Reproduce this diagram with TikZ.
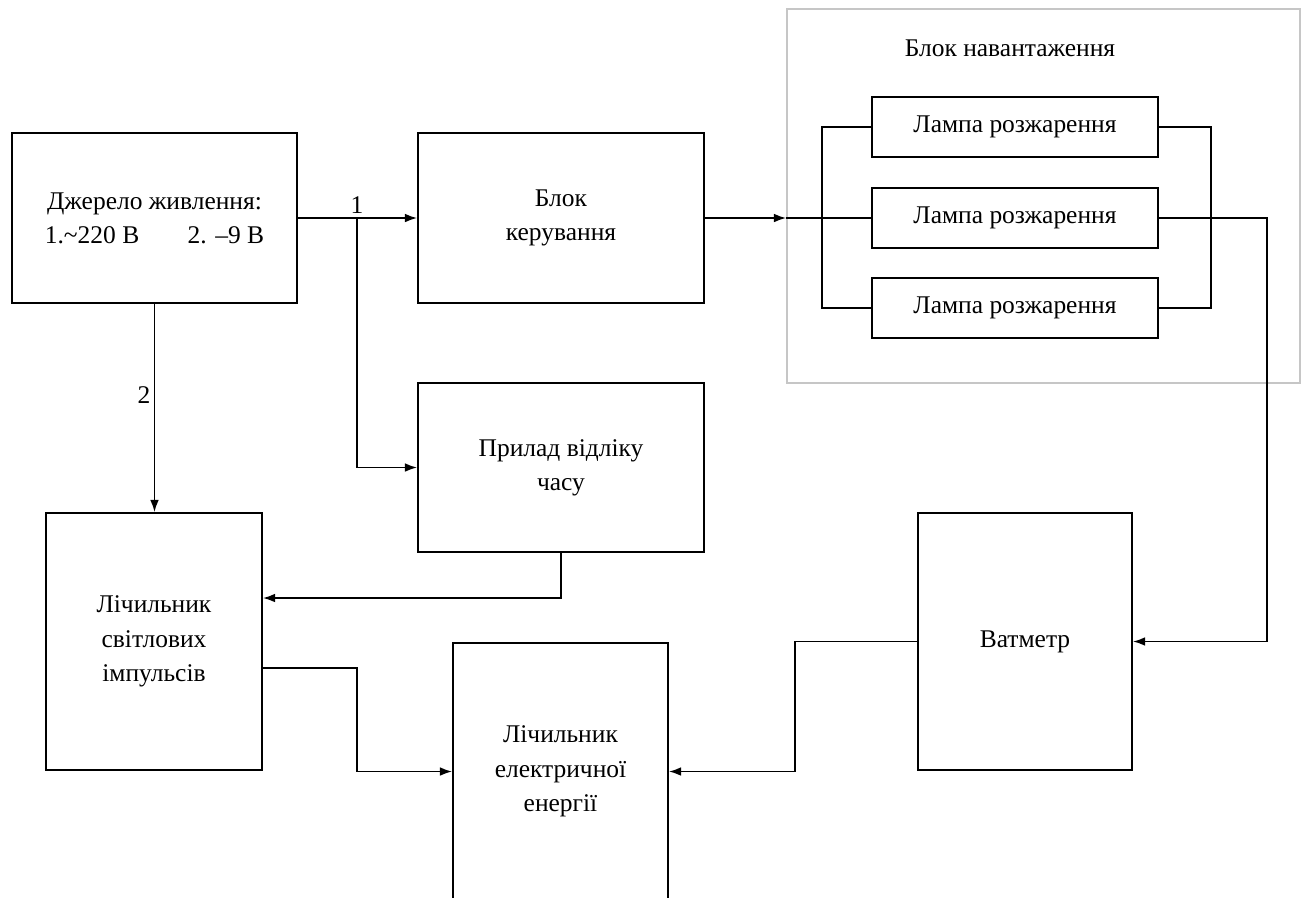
\documentclass[tikz,border=0pt]{standalone}
\usepackage{fontspec}
\setmainfont{Liberation Serif}
\usetikzlibrary{arrows.meta}
\begin{document}
\begin{tikzpicture}[x=0.02cm,y=-0.02cm,line width=1pt,
    font=\fontsize{14.5}{19.5}\selectfont]
    \tikzstyle{block} = [draw,align=center,inner sep=2pt]
    \tikzstyle{lamp} = [block,minimum width=5.72cm,minimum height=1.2cm]
    \tikzstyle{arr} = [-{Latex[length=7pt,width=5pt]}]
    \useasboundingbox (0,0) rectangle (1312,897);
        % blocks
        \node[block,minimum width=5.7cm,minimum height=3.4cm] (src) at (154.5,218)
            {Джерело живлення:\\1.\textasciitilde220 В\hspace{1.9em}2. –9 В};
        \node[block,minimum width=5.72cm,minimum height=3.4cm] (ctrl) at (561,218)
            {Блок\\керування};
        \node[block,minimum width=5.72cm,minimum height=3.38cm] (timer) at (561,467.5)
            {Прилад відліку\\часу};
        \node[block,minimum width=4.32cm,minimum height=5.14cm] (pulse) at (154,641.5)
            {Лічильник\\світлових\\імпульсів};
        \node[block,minimum width=4.28cm,minimum height=5.14cm] (watt) at (1025,641.5)
            {Ватметр};
        \node[block,minimum width=4.3cm,minimum height=5.14cm] (meter) at (560.5,771.5)
            {Лічильник\\електричної\\енергії};
        % load block
        \node[draw=gray!45,minimum width=10.26cm,minimum height=7.48cm] (load) at (1043.5,196) {};
        \node (loadtitle) at (1010,48) {Блок навантаження};
        \node[lamp] (lamp1) at (1015,127) {Лампа розжарення};
        \node[lamp] (lamp2) at (1015,218) {Лампа розжарення};
        \node[lamp] (lamp3) at (1015,308) {Лампа розжарення};
        \draw (lamp1.west) -- ++(-49,0) |- (lamp3.west);
        \draw (lamp1.east) -- ++(52,0) |- (lamp3.east);
        % connections
        \draw[arr] (src.east) -- (ctrl.west);
        \node (lbl1) at (357,205) {1};
        \coordinate (br1) at (357,218);
        \draw[arr] (br1) |- (timer.west);
        \draw[arr] (src.south) -- (src.south |- pulse.north);
        \node (lbl2) at (144,395) {2};
        \coordinate (t1) at (562,598);
        \draw[arr] (timer.south) |- (pulse.east |- t1);
        \draw[arr] (pulse.east |- 0,668) -- (357,668) |- (meter.west);
        \draw[arr] (watt.west) -- (795,641.5) |- (meter.east);
        \draw[arr] (ctrl.east) -- (load.west |- ctrl.east);
        \draw (load.west |- ctrl.east) -- (lamp2.west);
        \draw[arr] (lamp2.east) -- (1267,218) |- (watt.east);
\end{tikzpicture}
\end{document}
